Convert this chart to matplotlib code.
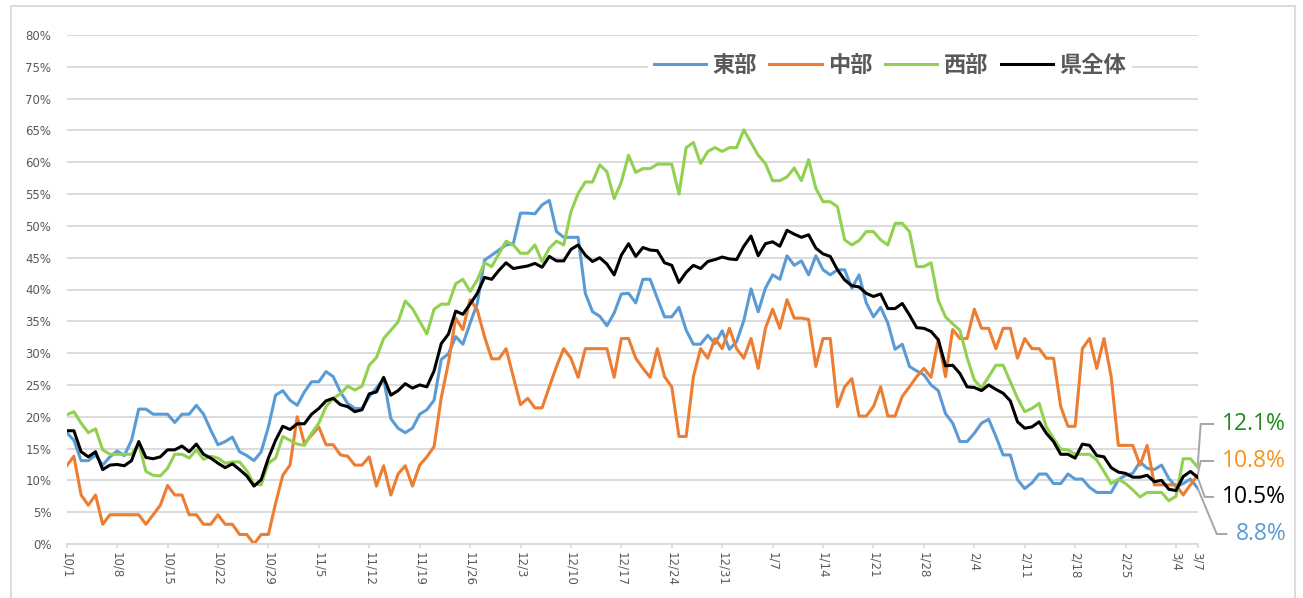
import matplotlib
matplotlib.use("Agg")
import matplotlib.pyplot as plt
import pandas as pd
from matplotlib.patches import Rectangle
from matplotlib.font_manager import FontProperties

plt.rcParams['font.family'] = ['DejaVu Sans', 'Noto Sans CJK JP']

# ---------------- data ----------------
dates = pd.date_range("2020-10-01", "2021-03-07", freq="D")
series_names = ["東部", "中部", "西部", "県全体"]

east = [17.5,16.3,13.1,13.1,14.0,12.4,13.7,14.6,13.9,16.3,
        21.2,21.2,20.4,20.4,20.4,19.1,20.4,20.4,21.8,20.4,
        17.9,15.6,16.1,16.8,14.5,13.9,13.1,14.5,18.4,23.4,
        24.1,22.6,21.8,23.9,25.5,25.5,27.1,26.3,23.9,22.1,
        21.3,21.3,23.2,24.5,26.0,19.7,18.2,17.5,18.2,20.4,
        21.1,22.6,29.0,29.9,32.6,31.4,34.7,37.8,44.6,45.4,
        46.2,47.0,47.2,52.0,52.0,51.9,53.3,54.0,49.1,48.2,
        48.2,48.2,39.4,36.5,35.8,34.3,36.3,39.3,39.4,37.9,
        41.6,41.6,38.6,35.7,35.7,37.2,33.6,31.4,31.4,32.8,
        31.5,33.5,30.6,31.8,35.1,40.1,36.5,40.2,42.3,41.6,
        45.3,43.8,44.5,42.3,45.3,43.1,42.3,43.1,43.1,40.2,
        42.3,37.9,35.7,37.2,34.7,30.6,31.4,27.9,27.2,26.6,
        25.0,24.1,20.5,19.0,16.1,16.1,17.4,19.0,19.6,16.9,
        14.0,14.0,10.1,8.7,9.6,11.0,11.0,9.5,9.5,11.0,
        10.2,10.2,8.9,8.1,8.1,8.1,10.1,10.8,11.1,12.9,
        11.9,11.7,12.4,10.3,9.0,9.5,10.2,8.8]

central = [12.3,13.8,7.7,6.1,7.7,3.1,4.6,4.6,4.6,4.6,
           4.6,3.1,4.6,6.1,9.2,7.7,7.7,4.6,4.6,3.1,
           3.1,4.6,3.1,3.1,1.5,1.5,0.0,1.5,1.5,6.4,
           10.8,12.4,20.0,15.8,17.1,18.4,15.6,15.6,14.0,13.8,
           12.4,12.4,13.7,9.1,12.3,7.7,11.0,12.3,9.1,12.4,
           13.7,15.3,23.0,28.5,35.5,33.7,38.4,36.8,32.6,29.1,
           29.1,30.7,26.3,21.9,22.9,21.4,21.4,24.7,27.9,30.7,
           29.2,26.2,30.7,30.7,30.7,30.7,26.2,32.3,32.3,29.2,
           27.6,26.2,30.7,26.3,24.7,16.9,16.9,26.3,30.7,29.2,
           32.3,30.7,33.9,30.7,29.2,32.3,27.6,33.9,36.9,33.9,
           38.4,35.5,35.5,35.3,27.9,32.3,32.3,21.6,24.7,26.0,
           20.1,20.1,21.6,24.7,20.1,20.1,23.2,24.7,26.3,27.6,
           26.2,32.2,26.3,33.7,32.3,32.3,36.9,33.9,33.9,30.7,
           33.9,33.9,29.2,32.3,30.7,30.7,29.2,29.2,21.6,18.5,
           18.5,30.7,32.3,27.6,32.3,26.3,15.5,15.5,15.5,12.4,
           15.5,9.3,9.3,9.3,9.3,7.7,9.3,10.8]

west = [20.3,20.8,19.0,17.5,18.1,14.8,14.1,14.1,14.1,14.1,
        15.8,11.4,10.8,10.7,11.9,14.1,14.1,13.5,14.8,13.3,
        13.8,13.5,12.7,12.9,12.9,11.5,9.4,9.3,12.7,13.5,
        16.9,16.3,15.7,15.5,17.4,19.0,21.6,22.9,23.6,24.8,
        24.2,24.8,28.1,29.3,32.3,33.6,34.9,38.2,37.0,35.0,
        33.0,36.9,37.7,37.7,40.9,41.6,39.7,41.5,44.2,43.6,
        45.6,47.6,47.0,45.7,45.7,47.0,44.4,46.5,47.6,47.0,
        52.2,55.1,56.9,56.9,59.6,58.5,54.3,56.9,61.1,58.4,
        59.0,59.0,59.7,59.7,59.7,55.0,62.3,63.1,59.8,61.7,
        62.3,61.7,62.3,62.3,65.1,63.1,61.1,59.8,57.1,57.1,
        57.7,59.1,57.1,60.4,55.9,53.8,53.8,53.0,47.8,47.0,
        47.7,49.1,49.1,47.8,47.0,50.4,50.4,49.1,43.6,43.6,
        44.2,38.3,35.7,34.6,33.6,29.3,25.8,24.5,26.3,28.1,
        28.1,25.5,22.9,20.8,21.3,22.1,18.4,16.6,14.9,14.8,
        14.1,14.1,14.1,13.2,11.4,9.5,10.2,9.5,8.5,7.4,
        8.1,8.1,8.1,6.8,7.5,13.4,13.4,12.1]

prefecture = [17.8,17.8,14.5,13.7,14.5,11.7,12.4,12.5,12.3,13.1,
              16.1,13.6,13.4,13.7,14.8,14.8,15.4,14.5,15.7,14.1,
              13.5,12.7,12.0,12.6,11.7,10.7,9.1,10.1,13.5,16.3,
              18.5,18.0,18.9,18.9,20.4,21.3,22.5,22.9,21.9,21.6,
              20.8,21.1,23.6,23.9,26.2,23.4,24.1,25.2,24.5,25.0,
              24.7,27.2,31.5,33.0,36.6,36.1,37.7,39.4,41.9,41.6,
              43.0,44.2,43.3,43.5,43.7,44.1,43.5,45.2,44.5,44.5,
              46.3,47.0,45.4,44.4,45.0,44.0,42.3,45.4,47.2,45.2,
              46.6,46.2,46.1,44.2,43.8,41.1,42.7,43.8,43.3,44.4,
              44.7,45.1,44.8,44.7,46.8,48.4,45.3,47.2,47.5,46.8,
              49.3,48.7,48.2,48.6,46.5,45.6,45.2,43.1,41.5,40.6,
              40.4,39.4,38.9,39.3,37.0,37.0,37.8,36.0,34.0,33.9,
              33.4,32.1,28.0,28.1,26.8,24.7,24.6,24.1,25.0,24.3,
              23.7,22.5,19.2,18.2,18.4,19.2,17.4,16.1,14.1,14.1,
              13.5,15.7,15.5,13.9,13.7,12.0,11.3,11.1,10.5,10.5,
              10.8,9.8,10.0,8.6,8.4,10.6,11.4,10.5]

end_labels = ["8.8%", "10.8%", "12.1%", "10.5%"]

# ---------------- style ----------------
line_colors = ["#5B9BD5", "#ED7D31", "#92D050", "#000000"]
label_colors = ["#5B9BD5", "#F7941D", "#1E8C1E", "#000000"]
grid_col = "#D9D9D9"
text_col = "#595959"

x = list(range(len(dates)))
all_series = [east, central, west, prefecture]

fig = plt.figure(figsize=(13.03, 5.98), dpi=100)
W, H = 1303.0, 598.0
ax = fig.add_axes([66.7 / W, 1 - 544 / H, 1130.9 / W, 509 / H])

handles = []
for s, c, n in zip(all_series, line_colors, series_names):
    h, = ax.plot(x, s, color=c, lw=2.2, label=n, solid_joinstyle="round")
    handles.append(h)

ax.set_xlim(0, len(dates) - 1)
ax.set_ylim(0, 80)

yt = list(range(0, 81, 5))
ax.set_yticks(yt)
ax.set_yticklabels([f"{v}%" for v in yt], fontsize=8.5, color=text_col)
ax.yaxis.grid(True, color=grid_col, lw=1.3)
ax.set_axisbelow(True)
ax.tick_params(axis="y", length=0, pad=11)

tick_idx = list(range(0, len(dates), 7))
if tick_idx[-1] != len(dates) - 1:
    tick_idx.append(len(dates) - 1)
ax.set_xticks(tick_idx)
ax.set_xticklabels([f"{dates[i].month}/{dates[i].day}" for i in tick_idx],
                   rotation=270, fontsize=8.5, color=text_col)
ax.tick_params(axis="x", length=3, color=grid_col, width=1.2, pad=3)

for sp in ["top", "right", "left"]:
    ax.spines[sp].set_visible(False)
ax.spines["bottom"].set_color(grid_col)
ax.spines["bottom"].set_linewidth(1.3)

leg = ax.legend(handles=handles, ncol=4, loc="center", bbox_to_anchor=(0.728, 0.941),
                prop=FontProperties(family=["Noto Sans CJK JP"], weight="bold", size=16),
                frameon=True, facecolor="white", edgecolor="none", framealpha=1,
                fancybox=False, handlelength=2.35, handletextpad=0.3,
                columnspacing=0.55, borderpad=0.25, labelcolor=text_col)

# ---------------- end-value callouts (layout in data units) ----------------
last = len(dates) - 1
# order: east, central, west, prefecture -> (bend x, label y, line end x, text x)
callout_layout = [
    (159.66, 1.57, 161.0, 162.3),
    (157.43, 13.05, 159.15, 160.4),
    (157.43, 18.86, 159.15, 160.4),
    (157.99, 7.40, 159.15, 160.4),
]
for s, lab, col, (bx, ly, ex, tx) in zip(all_series, end_labels, label_colors, callout_layout):
    ax.plot([last, bx, ex], [s[-1], ly, ly], color="#A6A6A6", lw=1.4,
            clip_on=False, zorder=1)
    ax.text(tx, ly, lab, color=col, fontsize=16.5, family=["Open Sans", "DejaVu Sans"],
            va="center", ha="left", clip_on=False)

# outer chart border
fig.patches.append(Rectangle((10.5 / W, -0.02), (1295 - 10.5) / W, 1 - 6 / H + 0.02,
                             transform=fig.transFigure, fill=False,
                             edgecolor=grid_col, lw=1.3))

fig.savefig("out.png", dpi=100)
